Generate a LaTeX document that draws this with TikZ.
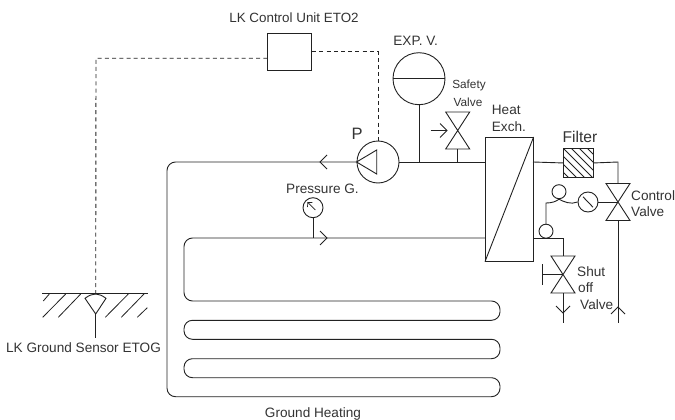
\documentclass[tikz,border=0pt]{standalone}
\usepackage{fontspec}
\setmainfont{Liberation Sans}
\usetikzlibrary{arrows.meta,calc}
\definecolor{ink}{HTML}{222222}
\definecolor{txt}{HTML}{333333}
\tikzset{
  x=1pt,y=-1pt,
  pipe/.style={draw=ink,line width=0.9pt},
  ctl/.style={draw=ink,line width=0.9pt,dash pattern=on 4pt off 3.2pt},
  round node/.style={circle,draw=ink,line width=0.9pt,inner sep=0pt,minimum size=#1,fill=white},
  box node/.style={rectangle,draw=ink,line width=0.9pt,inner sep=0pt,anchor=north west},
  lab/.style={text=txt,font=\fontsize{13.6}{15}\selectfont,inner sep=0pt},
  labs/.style={text=txt,font=\fontsize{11.8}{14}\selectfont,inner sep=0pt},
  valvebody/.pic={\draw[pipe,line join=miter] (-12,-18.5) -- (12,-18.5) -- (-12,18.5) -- (12,18.5) -- cycle;},
}
\begin{document}
\begin{tikzpicture}
\useasboundingbox (0,0) rectangle (675,420);
% nodes
\node[box node,minimum width=44pt,minimum height=37.6pt] (unit) at (267.3,32.7) {};
\node[round node=42pt] (pump) at (378,162) {};
\node[round node=52pt] (exp) at (419,78.7) {};
\node[box node,minimum width=47.7pt,minimum height=123.7pt] (hx) at (485,137) {};
\node[box node,minimum width=30pt,minimum height=29pt] (filter) at (563,148) {};
\node[round node=20pt] (pg) at (313,207.7) {};
\node[round node=20pt] (cg) at (588,202) {};
\node[round node=14pt] (bulb) at (546,231.2) {};
\node[round node=14pt] (coil) at (559,191.7) {};
% named points
\coordinate (sv) at (457.7,130.5);
\coordinate (sbot) at (457.7,149);
\coordinate (cv) at (618,202);
\coordinate (ctop) at (618,183.5);
\coordinate (cbot) at (618,220.5);
\coordinate (so) at (563,274.5);
\coordinate (stop) at (563,256);
\coordinate (sbt) at (563,293);
\coordinate (hand) at (542,274.5);
\coordinate (sensor) at (95.7,294);
\coordinate (sensorb) at (95.7,314);
\coordinate (sensore) at (95.7,337.5);
\coordinate (pipeA) at (419,162);
\coordinate (pipeB) at (457.7,162);
\coordinate (pipeC) at (313,238);
% main pipe
\draw[pipe,rounded corners=8.5pt] (pump.west) -- (167,162) -- (167,396.7) -- (500,396.7) -- (500,377.7) -- (184,377.7) -- (184,358.7) -- (500,358.7) -- (500,339.3) -- (184,339.3) -- (184,320.3) -- (500,320.3) -- (500,301) -- (184,301) -- (184,238) -- (485,238);
\draw[pipe] (pump.east) -- (485,162);
\draw[pipe] (exp.south) -- (pipeA);
\draw[pipe] (sbot) -- (pipeB);
\draw[pipe] (pg.south) -- (pipeC);
% pipe arrows
\draw[pipe] (327,155) -- (320,162) -- (327,169);
\draw[pipe] (320,231) -- (327,238) -- (320,245);
% pump
\draw[pipe] (exp.west) -- (exp.east);
\draw[pipe,line join=miter] (pump.west) -- (376.7,150) -- (376.7,174) -- cycle;
% control lines
\draw[ctl] (unit.west |- 0,58.3) -- (96,58.3) -- (sensor);
\draw[ctl] (unit.east |- 0,51.7) -- (378,51.7) -- (pump.north);
% valves
\pic at (sv) {valvebody};
\pic at (cv) {valvebody};
\pic at (so) {valvebody};
\draw[pipe] (430.5,130.5) -- (447,130.5);
\draw[pipe] (440,123.5) -- (447,130.5) -- (440,137.5);
% heat exchanger
\draw[pipe] (hx.south west) -- (hx.north east);
% filter
\draw[pipe] (533,162) -- (filter.west);
\draw[pipe] (filter.east) -- (618,162) -- (ctop);
\begin{scope}
\clip (563,148) rectangle (593,177);
\foreach \d in {-24,-16,-8,0,8,16,24,32}
  \draw[ink,line width=0.8pt] ($(563,148)+(\d,0)$) -- ++(32,32);
\end{scope}
% control valve branch
\draw[pipe] (cg.east) -- (cv);
\draw[pipe] (583,196.8) -- (593,207.2);
\draw[pipe] (bulb.north) -- (546,203) .. controls (552,203) and (556,201.5) .. (coil.south) .. controls (563,201.5) and (571,205) .. (cg.west);
\draw[pipe] (cbot) -- (618,323);
\draw[pipe] (611,314) -- (618,307) -- (625,314);
% shutoff
\draw[pipe] (533,238) -- (563,238) -- (stop);
\draw[pipe] (so) -- (hand);
\draw[pipe] (542,264) -- (542,285);
\draw[pipe] (sbt) -- (563,323);
\draw[pipe] (556,306) -- (563,313) -- (570,306);
% pressure gauge needle
\draw[pipe,line width=0.7pt] (315.3,210) -- (307.8,202.5);
\draw[pipe,line width=0.7pt] (307.5,207) -- (307.8,202.5) -- (312.3,202.5);
% sensor
\draw[pipe] (42,293.7) -- (148,293.7);
\draw[pipe,line join=miter] (85,298.3) .. controls (89,295.5) and (92,294) .. (sensor) .. controls (99,294) and (102,295.5) .. (106,298.3) -- (sensorb) -- cycle;
\draw[pipe] (sensorb) -- (sensore);
\draw[pipe,line width=0.8pt]
  (49.3,294) -- (43.3,301)
  (65.7,294) -- (42.7,317.3)
  (80.7,294) -- (58.3,317.3)
  (128.3,294) -- (105.3,317.3)
  (144,294) -- (121.3,317.3)
  (147.3,307.7) -- (137.3,317.3);
% labels
\node[lab,font=\fontsize{13.4}{15}\selectfont] (tunit) at (294,18) {LK Control Unit ETO2};
\node[lab] (texp) at (415.7,41) {EXP. V.};
\node[labs] (tsafety) at (469,85.5) {Safety};
\node[labs] (tvalve) at (468,102) {Valve};
\node[text=txt,font=\fontsize{16.5}{18}\selectfont,inner sep=0pt] (tp) at (357,134) {P};
\node[lab,anchor=west] (theat) at (491.7,110) {Heat};
\node[lab,anchor=west] (texch) at (491.7,126.7) {Exch.};
\node[text=txt,font=\fontsize{15.6}{18}\selectfont,inner sep=0pt] (tfilter) at (580,136.7) {Filter};
\node[lab,anchor=west] (tpg) at (286,189) {Pressure G.};
\node[lab,anchor=west] (tcontrol) at (631,195.7) {Control};
\node[lab,anchor=west] (tcv) at (631,212) {Valve};
\node[lab,anchor=west] (tshut) at (577,271.7) {Shut};
\node[lab,anchor=west] (toff) at (578,288) {off};
\node[lab,anchor=west] (tsv) at (580,304.7) {Valve};
\node[lab] (tsensor) at (83.5,348) {LK Ground Sensor ETOG};
\node[lab] (tground) at (313,414) {Ground Heating};
\end{tikzpicture}
\end{document}
